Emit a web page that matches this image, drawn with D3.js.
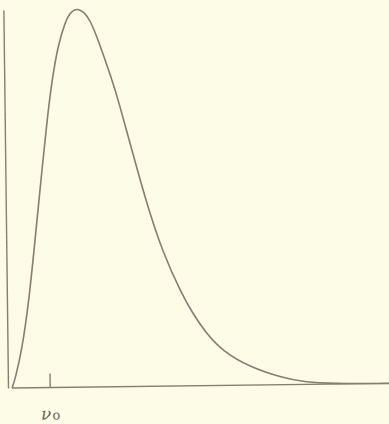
<!DOCTYPE html>
<html>
<head>
<meta charset="utf-8">
<script src="https://cdn.jsdelivr.net/npm/d3@7"></script>
<style>
  html, body { margin: 0; padding: 0; background: #fdfce7; }
  svg { display: block; }
</style>
</head>
<body>
<svg id="chart" width="389" height="424"></svg>
<script>
// values (frequency in units of nu0, intensity relative to peak)
var freq      = [0, 0.08, 0.277, 0.479, 0.629, 0.777, 1.016, 1.162, 1.332, 1.525, 1.65, 1.846, 2.05, 2.188, 2.393, 2.753, 2.928, 3.207, 3.589, 4.05, 4.54, 4.80, 5.14, 5.58, 6.32, 7.19, 7.73, 8.5, 10]
var intensity = [0, 0.021, 0.100, 0.232, 0.364, 0.497, 0.708, 0.814, 0.905, 0.965, 0.990, 1.004, 0.990, 0.971, 0.920, 0.812, 0.752, 0.645, 0.498, 0.350, 0.242, 0.195, 0.142, 0.092, 0.047, 0.018, 0.007, 0.001, 0]
var tickValues = [1]
var tickLabel = "ν"
var tickSub = "o"

var ink = "#877d70"
var svg = d3.select("#chart")

var x = d3.scaleLinear().domain([0, 10]).range([12, 389])
var y = d3.scaleLinear().domain([0, 1]).range([388, 10])

// the scan is tilted slightly
var g = svg.append("g").attr("transform", "rotate(-0.7,12,388)")

var xAxis = g.append("g").attr("transform", "translate(0," + y(0) + ")")
  .call(d3.axisBottom(x).tickValues(tickValues).tickSizeInner(-14).tickSizeOuter(0).tickFormat(""))
xAxis.select(".domain").attr("d", "M" + x(0) + ",0H" + (x(10) + 10))
xAxis.selectAll("path, line").attr("stroke", ink).attr("stroke-width", 1.4)

var yAxis = g.append("g").attr("transform", "translate(" + (x(0) - 4) + ",0)")
  .call(d3.axisLeft(y).tickValues([]).tickSizeOuter(0))
yAxis.selectAll("path").attr("stroke", ink).attr("stroke-width", 1.4)

var line = d3.line()
  .x(function(d, i){ return x(freq[i]) })
  .y(function(d, i){ return y(intensity[i]) })
  .curve(d3.curveBasis)

g.append("path")
  .datum(freq)
  .attr("d", line)
  .attr("fill", "none")
  .attr("stroke", ink)
  .attr("stroke-width", 1.6)

var lab = g.append("text")
  .attr("x", x(tickValues[0]) - 9)
  .attr("y", 420)
  .attr("fill", "#6e6456")
  .style("font-family", "DejaVu Serif")
  .style("font-style", "italic")
  .style("font-size", "17px")
lab.append("tspan").text(tickLabel)
lab.append("tspan").attr("dx", 1).attr("font-size", "13px").style("font-style", "normal").text(tickSub)
</script>
</body>
</html>
